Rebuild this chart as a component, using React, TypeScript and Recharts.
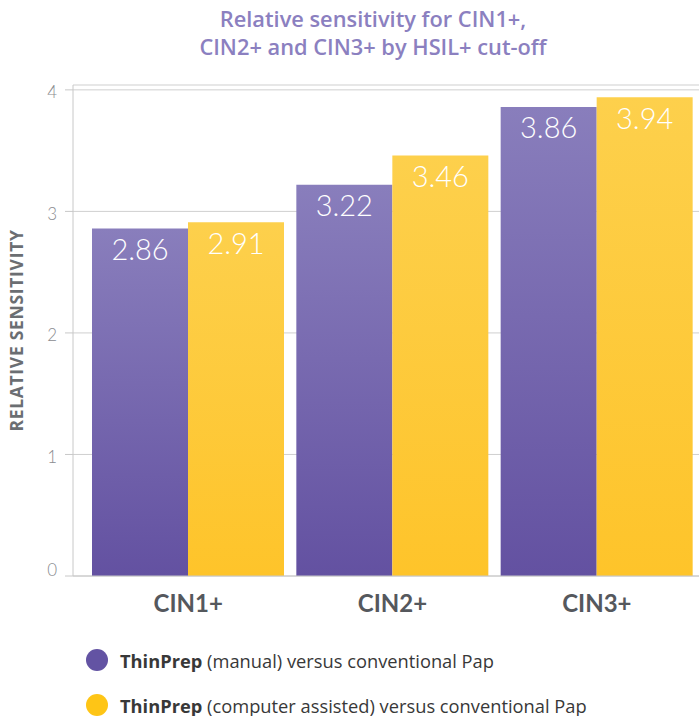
import React from 'react';
import { BarChart, Bar, XAxis, YAxis, CartesianGrid, LabelList } from 'recharts';

const categories = ['CIN1+', 'CIN2+', 'CIN3+'];
const manual = [2.86, 3.22, 3.86];
const computerAssisted = [2.91, 3.46, 3.94];
const yTicks = [0, 1, 2, 3, 4];
const seriesKeys = ['manual', 'computer'];
const seriesLabels = ['(manual) versus conventional Pap', '(computer assisted) versus conventional Pap'];
const seriesColors = ['#6353a3', '#fec516'];

const data = categories.map((name, i) => ({ name, manual: manual[i], computer: computerAssisted[i] }));

const FONT = 'Lato, "Open Sans", sans-serif';
const WIDE = '"Open Sans", Lato, sans-serif';

const YTick = ({ x, y, payload }: any) => (
    <text x={x} y={y} dy={payload.value === 0 ? -7 : 2} textAnchor="end" dominantBaseline="central"
        fill="#8a8c90" fontSize={17} fontWeight={300} fontFamily={FONT}>
        {payload.value}
    </text>
);

const XTick = ({ x, y, payload }: any) => (
    <text x={x} y={y + 26} textAnchor="middle" dominantBaseline="central"
        fill="#55585d" fontSize={24} fontWeight={700} fontFamily={FONT}>
        {payload.value}
    </text>
);

const ChartLegend = () => (
    <div style={{ position: 'absolute', left: 86, top: 649, fontFamily: WIDE, fontSize: 18.3, color: '#383838' }}>
        {seriesLabels.map((label, i) => (
            <div key={label} style={{ display: 'flex', alignItems: 'center', height: 22, marginBottom: i === 0 ? 23 : 0, whiteSpace: 'nowrap' }}>
                <span style={{ width: 22, height: 22, borderRadius: 11, background: seriesColors[i], display: 'inline-block', marginRight: 12 }} />
                <span><b>ThinPrep</b> {label}</span>
            </div>
        ))}
    </div>
);

export default function App() {
    return (
        <div style={{ position: 'absolute', left: 0, top: 0, width: 699, height: 716, background: '#fff', overflow: 'hidden' }}>
            <div style={{ position: 'absolute', left: 0, top: 5, width: 746, textAlign: 'center', fontFamily: WIDE,
                fontWeight: 600, fontSize: 21.8, lineHeight: '28px', color: '#8b80c0' }}>
                Relative sensitivity for CIN1+,<br />CIN2+ and CIN3+ by HSIL+ cut-off
            </div>
            <div style={{ position: 'absolute', left: 0, top: 0 }}>
                <BarChart width={699} height={640} data={data}
                    margin={{ top: 85, right: 0, bottom: 0, left: 0 }}
                    barCategoryGap={6} barGap={0}>
                    <defs>
                        <linearGradient id="gradManual" x1="0" y1="0" x2="0" y2="1">
                            <stop offset="0%" stopColor="#897ebc" />
                            <stop offset="100%" stopColor="#6351a1" />
                        </linearGradient>
                        <linearGradient id="gradComputer" x1="0" y1="0" x2="0" y2="1">
                            <stop offset="0%" stopColor="#fdd04c" />
                            <stop offset="100%" stopColor="#fec42a" />
                        </linearGradient>
                    </defs>
                    <CartesianGrid vertical={false} stroke="#cfcfcf" />
                    <XAxis dataKey="name" axisLine={{ stroke: '#c8c8c8' }} tickLine={false} tickSize={0} tickMargin={0}
                        height={64} padding={{ left: 13, right: 0 }} tick={<XTick />} interval={0} />
                    <YAxis domain={[0, 4.04]} ticks={yTicks} width={73} axisLine={{ stroke: '#c8c8c8' }}
                        tickLine={{ stroke: '#c8c8c8' }} tickSize={8} tickMargin={8} tick={<YTick />}
                        label={{ value: 'RELATIVE SENSITIVITY', angle: -90, position: 'insideLeft', offset: 17,
                            style: { fill: '#6b6e72', fontSize: 17.5, fontWeight: 700, fontFamily: WIDE, letterSpacing: 0.7, textAnchor: 'middle' } }} />
                    {seriesKeys.map((key, i) => (
                        <Bar key={key} dataKey={key} fill={i === 0 ? 'url(#gradManual)' : 'url(#gradComputer)'} isAnimationActive={false}>
                            <LabelList dataKey={key} position="insideTop" offset={11}
                                style={{ fill: '#fff', fontSize: 29, fontWeight: 300, fontFamily: FONT }} />
                        </Bar>
                    ))}
                </BarChart>
            </div>
            <ChartLegend />
        </div>
    );
}
